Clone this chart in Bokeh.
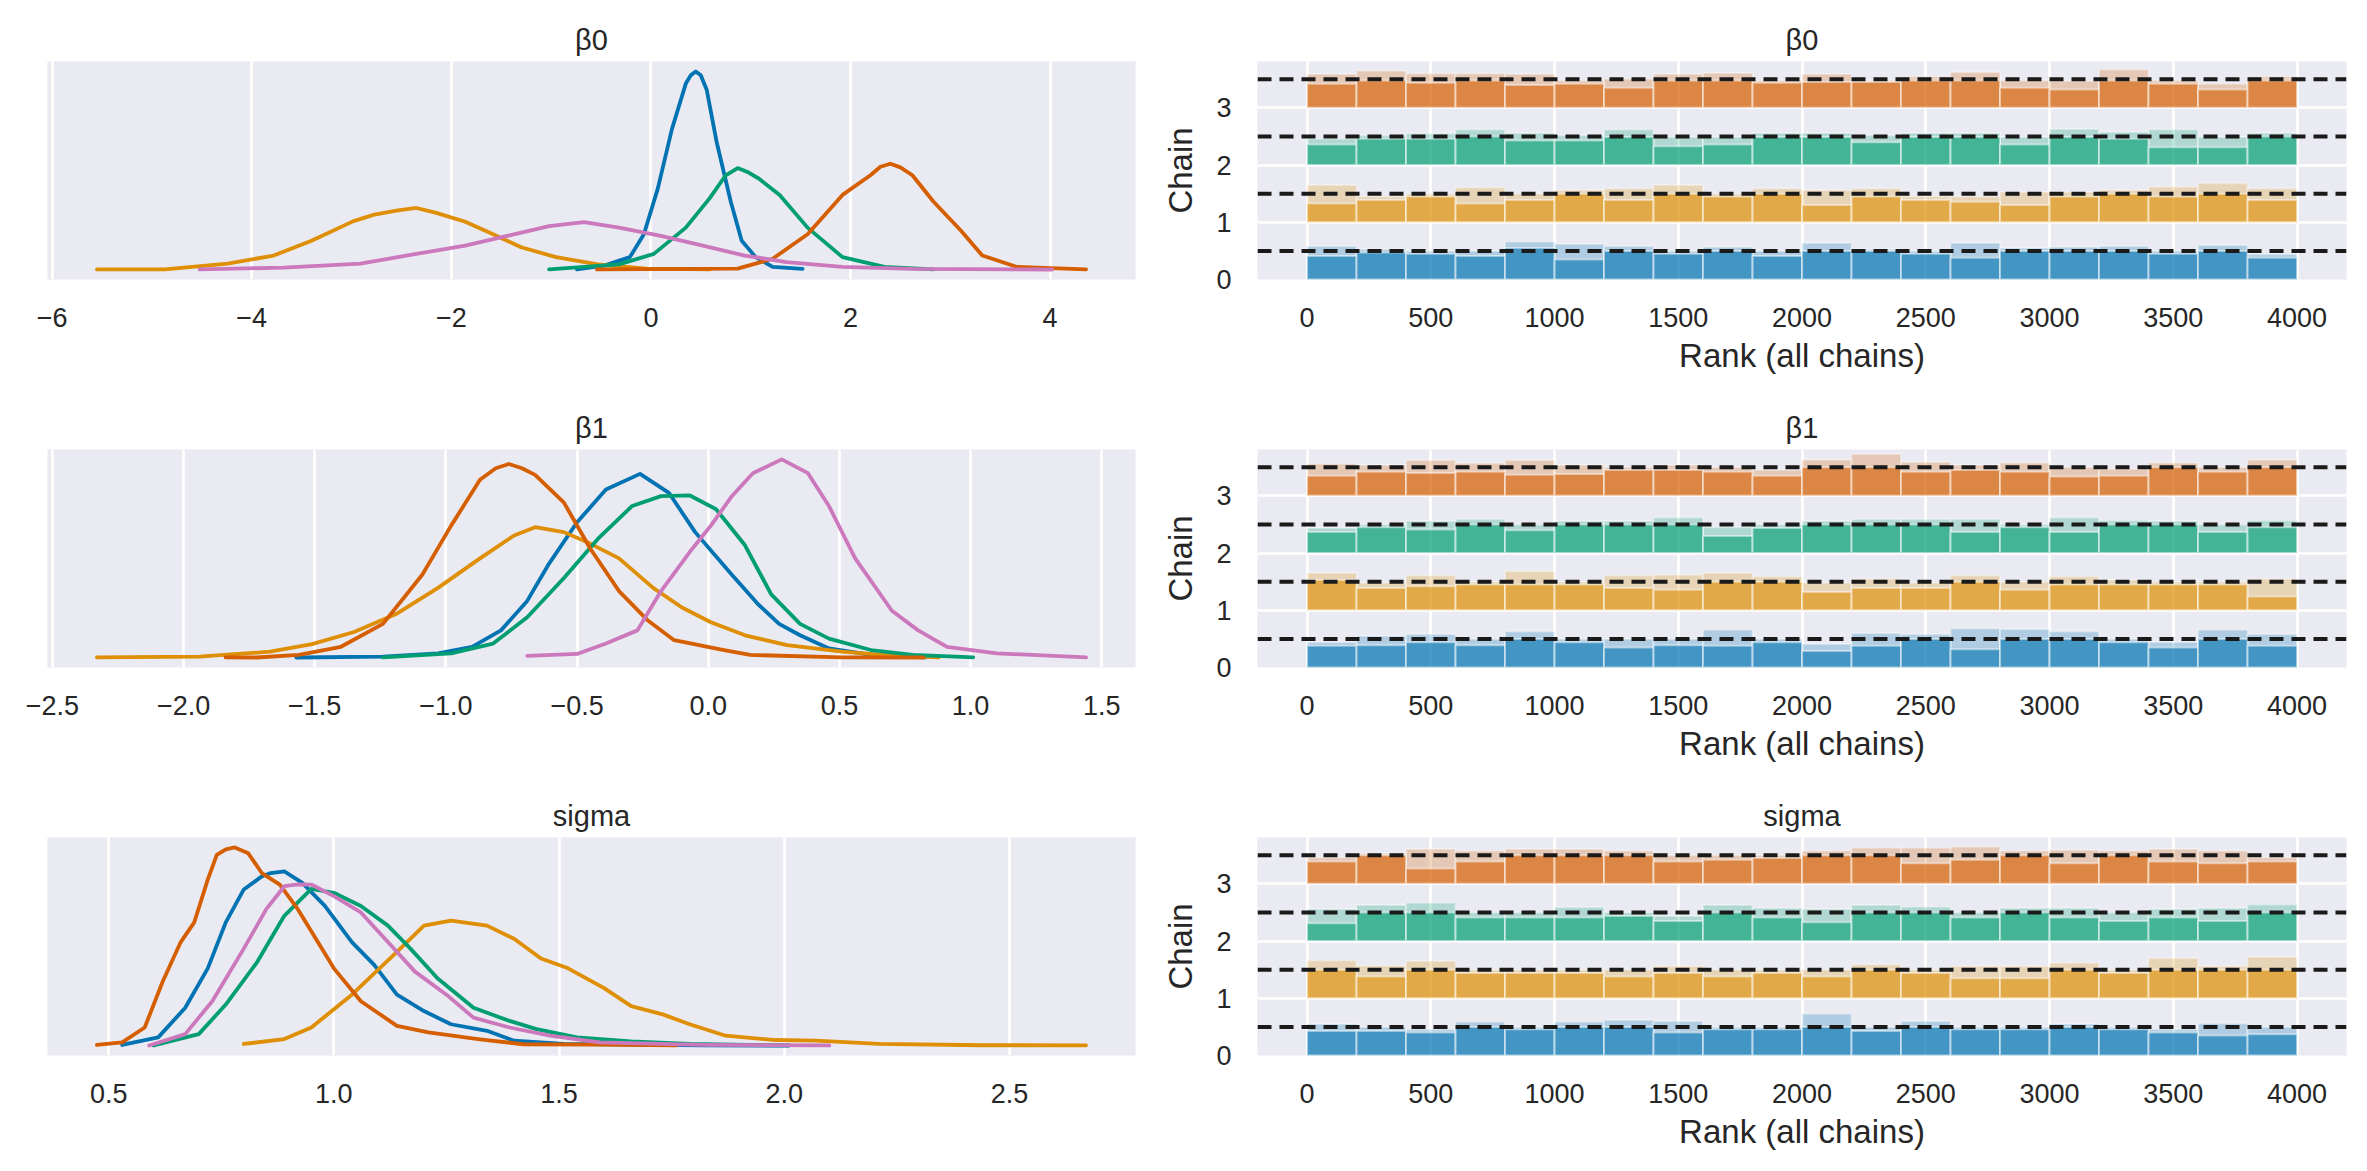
import numpy as np
from bokeh.plotting import figure
from bokeh.layouts import column, row
from bokeh.models import Range1d, FixedTicker, Span, CustomJSTickFormatter
from bokeh.embed import file_html
from bokeh.resources import INLINE

# ---------------- data ----------------
chain_colors = ["#0173b2", "#de8f05", "#029e73", "#d55e00", "#cc78bc"]
var_titles = ["β0", "β1", "sigma"]

# KDE curves, chains 0..4 (x grid, density)
beta0_x = [
    [-0.74, -0.46, -0.21, -0.07, 0.07, 0.21, 0.35, 0.40, 0.45, 0.50, 0.56, 0.66, 0.80, 0.91, 1.05, 1.22, 1.52],
    [-5.55, -4.87, -4.24, -3.78, -3.40, -2.98, -2.77, -2.55, -2.35, -2.15, -1.86, -1.58, -1.30, -0.95, -0.53, -0.04, 0.59],
    [-1.02, -0.32, 0.03, 0.35, 0.59, 0.75, 0.87, 0.98, 1.08, 1.29, 1.57, 1.92, 2.34, 2.83],
    [-0.54, 0.87, 1.22, 1.57, 1.92, 2.20, 2.30, 2.40, 2.50, 2.62, 2.83, 3.11, 3.32, 3.67, 4.36],
    [-4.52, -3.68, -2.91, -2.35, -1.86, -1.44, -1.02, -0.67, -0.32, 0.10, 0.52, 0.94, 1.36, 1.92, 2.62, 4.02],
]
beta0_y = [
    [0.002, 0.043, 0.127, 0.36, 0.827, 1.427, 1.893, 1.977, 2.017, 1.977, 1.827, 1.293, 0.693, 0.293, 0.127, 0.027, 0.007],
    [0.002, 0.003, 0.06, 0.143, 0.293, 0.493, 0.56, 0.60, 0.627, 0.577, 0.487, 0.36, 0.227, 0.127, 0.053, 0.01, 0.002],
    [0.002, 0.053, 0.16, 0.427, 0.727, 0.96, 1.033, 0.987, 0.927, 0.76, 0.427, 0.127, 0.027, 0.002],
    [0.002, 0.01, 0.11, 0.36, 0.76, 0.96, 1.047, 1.077, 1.04, 0.96, 0.693, 0.393, 0.143, 0.027, 0.002],
    [0.002, 0.02, 0.06, 0.16, 0.243, 0.343, 0.443, 0.483, 0.427, 0.343, 0.243, 0.143, 0.077, 0.027, 0.007, 0.001],
]
beta1_x = [
    [-1.57, -1.24, -1.03, -0.90, -0.79, -0.69, -0.61, -0.50, -0.39, -0.26, -0.15, -0.05, 0.09, 0.19, 0.27, 0.35, 0.46, 0.64, 0.83],
    [-2.33, -1.94, -1.67, -1.51, -1.35, -1.19, -1.03, -0.87, -0.74, -0.66, -0.55, -0.45, -0.34, -0.21, -0.10, 0.01, 0.14, 0.30, 0.51, 0.70, 0.88],
    [-1.24, -0.98, -0.82, -0.69, -0.55, -0.42, -0.29, -0.18, -0.07, 0.03, 0.14, 0.24, 0.35, 0.46, 0.62, 0.78, 1.01],
    [-1.84, -1.72, -1.56, -1.40, -1.24, -1.09, -0.98, -0.87, -0.81, -0.76, -0.71, -0.66, -0.55, -0.45, -0.34, -0.23, -0.13, 0.06, 0.16, 0.51, 0.82],
    [-0.69, -0.50, -0.39, -0.27, -0.18, -0.07, 0.01, 0.09, 0.17, 0.28, 0.38, 0.46, 0.56, 0.70, 0.80, 0.91, 1.10, 1.44],
]
beta1_y = [
    [0.001, 0.01, 0.043, 0.11, 0.277, 0.577, 0.943, 1.377, 1.71, 1.87, 1.677, 1.277, 0.843, 0.543, 0.343, 0.227, 0.093, 0.02, 0.003],
    [0.002, 0.01, 0.06, 0.137, 0.26, 0.443, 0.71, 1.01, 1.243, 1.327, 1.277, 1.16, 1.01, 0.71, 0.51, 0.36, 0.227, 0.127, 0.06, 0.02, 0.003],
    [0.003, 0.043, 0.143, 0.41, 0.81, 1.21, 1.543, 1.643, 1.65, 1.51, 1.143, 0.643, 0.343, 0.193, 0.077, 0.027, 0.003],
    [0.003, 0.001, 0.027, 0.11, 0.343, 0.843, 1.343, 1.81, 1.927, 1.97, 1.927, 1.86, 1.577, 1.11, 0.677, 0.377, 0.177, 0.077, 0.027, 0.003, 0.001],
    [0.017, 0.037, 0.143, 0.277, 0.677, 1.077, 1.343, 1.643, 1.877, 2.017, 1.877, 1.543, 1.01, 0.477, 0.277, 0.11, 0.043, 0.003],
]
sigma_x = [
    [0.53, 0.61, 0.67, 0.72, 0.76, 0.80, 0.84, 0.86, 0.89, 0.93, 0.98, 1.04, 1.09, 1.14, 1.20, 1.26, 1.34, 1.40, 1.51, 1.82, 2.01],
    [0.80, 0.89, 0.95, 1.04, 1.14, 1.20, 1.26, 1.34, 1.40, 1.46, 1.52, 1.60, 1.66, 1.73, 1.79, 1.87, 1.98, 2.07, 2.21, 2.44, 2.67],
    [0.60, 0.70, 0.76, 0.83, 0.89, 0.95, 1.00, 1.06, 1.12, 1.17, 1.23, 1.31, 1.39, 1.45, 1.54, 1.66, 1.79, 2.01],
    [0.474, 0.53, 0.58, 0.62, 0.66, 0.69, 0.72, 0.74, 0.76, 0.78, 0.81, 0.84, 0.88, 0.92, 0.96, 1.00, 1.06, 1.14, 1.21, 1.32, 1.42, 1.59, 1.76],
    [0.59, 0.67, 0.73, 0.80, 0.85, 0.89, 0.92, 0.95, 1.00, 1.06, 1.12, 1.18, 1.25, 1.31, 1.39, 1.48, 1.59, 1.82, 2.10],
]
sigma_y = [
    [0.013, 0.167, 0.767, 1.567, 2.5, 3.167, 3.433, 3.5, 3.533, 3.3, 2.833, 2.1, 1.633, 1.033, 0.7, 0.433, 0.3, 0.1, 0.033, 0.003, 0.002],
    [0.033, 0.133, 0.367, 1.033, 1.9, 2.433, 2.533, 2.433, 2.167, 1.767, 1.567, 1.167, 0.8, 0.633, 0.433, 0.2, 0.113, 0.1, 0.033, 0.007, 0.006],
    [0.003, 0.233, 0.833, 1.7, 2.633, 3.18, 3.1, 2.833, 2.433, 1.967, 1.367, 0.767, 0.5, 0.333, 0.167, 0.087, 0.033, 0.003],
    [0.013, 0.067, 0.367, 1.3, 2.1, 2.5, 3.367, 3.867, 3.98, 4.02, 3.9, 3.5, 3.267, 2.767, 2.167, 1.567, 0.9, 0.4, 0.267, 0.133, 0.027, 0.02, 0.003],
    [0.003, 0.233, 0.9, 1.967, 2.767, 3.233, 3.27, 3.267, 3.033, 2.7, 2.1, 1.5, 1.033, 0.567, 0.367, 0.2, 0.067, 0.013, 0.003],
]

# rank histograms: 20 bins over all 4000 draws, chains 0..3 (normalised heights)
n_ranks = 4000
n_bins = 20
rank_chains = [0, 1, 2, 3]
beta0_rank_top = [
    [0.58, 0.53, 0.50, 0.50, 0.66, 0.62, 0.58, 0.50, 0.57, 0.50, 0.64, 0.53, 0.50, 0.64, 0.55, 0.57, 0.58, 0.50, 0.60, 0.44],
    [0.65, 0.45, 0.50, 0.61, 0.50, 0.56, 0.59, 0.65, 0.50, 0.59, 0.56, 0.59, 0.45, 0.45, 0.53, 0.53, 0.56, 0.62, 0.68, 0.59],
    [0.46, 0.52, 0.55, 0.62, 0.56, 0.52, 0.62, 0.49, 0.49, 0.56, 0.56, 0.52, 0.56, 0.56, 0.49, 0.63, 0.58, 0.62, 0.49, 0.56],
    [0.59, 0.65, 0.60, 0.60, 0.59, 0.48, 0.51, 0.59, 0.61, 0.48, 0.59, 0.48, 0.55, 0.62, 0.48, 0.47, 0.67, 0.48, 0.42, 0.55],
]
beta0_rank_low = [
    [0.41, 0.47, 0.45, 0.41, 0.55, 0.35, 0.50, 0.45, 0.50, 0.41, 0.50, 0.50, 0.45, 0.38, 0.50, 0.50, 0.50, 0.45, 0.50, 0.38],
    [0.33, 0.39, 0.45, 0.33, 0.39, 0.50, 0.39, 0.50, 0.45, 0.50, 0.30, 0.45, 0.39, 0.36, 0.30, 0.45, 0.50, 0.45, 0.50, 0.39],
    [0.36, 0.46, 0.46, 0.50, 0.43, 0.43, 0.49, 0.33, 0.36, 0.49, 0.49, 0.40, 0.49, 0.49, 0.36, 0.49, 0.46, 0.31, 0.31, 0.50],
    [0.42, 0.48, 0.44, 0.48, 0.40, 0.42, 0.35, 0.48, 0.48, 0.44, 0.45, 0.45, 0.48, 0.48, 0.35, 0.32, 0.48, 0.42, 0.32, 0.48],
]
beta1_rank_top = [
    [0.44, 0.55, 0.58, 0.50, 0.63, 0.50, 0.50, 0.50, 0.66, 0.50, 0.41, 0.60, 0.58, 0.68, 0.67, 0.63, 0.50, 0.44, 0.66, 0.58],
    [0.65, 0.48, 0.61, 0.50, 0.68, 0.50, 0.61, 0.62, 0.65, 0.59, 0.48, 0.55, 0.48, 0.61, 0.50, 0.59, 0.53, 0.50, 0.50, 0.55],
    [0.44, 0.50, 0.56, 0.59, 0.50, 0.56, 0.56, 0.62, 0.45, 0.50, 0.56, 0.59, 0.59, 0.59, 0.50, 0.62, 0.57, 0.56, 0.50, 0.57],
    [0.56, 0.54, 0.62, 0.57, 0.62, 0.54, 0.50, 0.54, 0.50, 0.45, 0.63, 0.73, 0.59, 0.54, 0.58, 0.50, 0.47, 0.58, 0.50, 0.63],
]
beta1_rank_low = [
    [0.38, 0.39, 0.44, 0.39, 0.50, 0.44, 0.35, 0.39, 0.38, 0.44, 0.29, 0.38, 0.50, 0.32, 0.50, 0.50, 0.44, 0.35, 0.50, 0.38],
    [0.53, 0.39, 0.42, 0.45, 0.45, 0.45, 0.39, 0.36, 0.50, 0.50, 0.32, 0.39, 0.39, 0.50, 0.36, 0.45, 0.45, 0.45, 0.45, 0.24],
    [0.37, 0.45, 0.41, 0.50, 0.40, 0.50, 0.50, 0.50, 0.30, 0.44, 0.50, 0.50, 0.50, 0.37, 0.45, 0.37, 0.50, 0.50, 0.37, 0.45],
    [0.35, 0.42, 0.40, 0.42, 0.37, 0.38, 0.45, 0.45, 0.42, 0.35, 0.50, 0.50, 0.42, 0.45, 0.42, 0.34, 0.35, 0.50, 0.42, 0.50],
]
sigma_rank_top = [
    [0.55, 0.50, 0.46, 0.59, 0.50, 0.59, 0.62, 0.60, 0.50, 0.50, 0.73, 0.50, 0.60, 0.50, 0.50, 0.55, 0.50, 0.46, 0.56, 0.50],
    [0.66, 0.57, 0.65, 0.50, 0.50, 0.50, 0.50, 0.56, 0.50, 0.50, 0.50, 0.59, 0.50, 0.56, 0.56, 0.62, 0.50, 0.70, 0.56, 0.72],
    [0.56, 0.63, 0.67, 0.50, 0.50, 0.59, 0.50, 0.44, 0.63, 0.58, 0.56, 0.63, 0.60, 0.50, 0.58, 0.58, 0.50, 0.56, 0.58, 0.64],
    [0.46, 0.53, 0.61, 0.58, 0.61, 0.61, 0.58, 0.50, 0.50, 0.50, 0.58, 0.63, 0.63, 0.65, 0.58, 0.59, 0.58, 0.61, 0.58, 0.46],
]
sigma_rank_low = [
    [0.43, 0.43, 0.40, 0.50, 0.46, 0.50, 0.50, 0.40, 0.46, 0.46, 0.50, 0.43, 0.50, 0.46, 0.46, 0.50, 0.46, 0.40, 0.35, 0.37],
    [0.50, 0.38, 0.50, 0.44, 0.44, 0.44, 0.38, 0.44, 0.38, 0.44, 0.38, 0.50, 0.44, 0.35, 0.35, 0.50, 0.44, 0.50, 0.50, 0.50],
    [0.31, 0.50, 0.50, 0.41, 0.41, 0.41, 0.44, 0.35, 0.50, 0.41, 0.33, 0.50, 0.50, 0.41, 0.50, 0.41, 0.35, 0.41, 0.35, 0.50],
    [0.39, 0.50, 0.27, 0.39, 0.50, 0.50, 0.50, 0.39, 0.42, 0.45, 0.50, 0.50, 0.36, 0.42, 0.50, 0.36, 0.50, 0.39, 0.36, 0.39],
]
rank_reference_level = 0.5  # uniform expectation (dashed lines)

beta0_ticks = [-6, -4, -2, 0, 2, 4]
beta0_labels = ["−6", "−4", "−2", "0", "2", "4"]
beta1_ticks = [-2.5, -2.0, -1.5, -1.0, -0.5, 0.0, 0.5, 1.0, 1.5]
beta1_labels = ["−2.5", "−2.0", "−1.5", "−1.0", "−0.5", "0.0", "0.5", "1.0", "1.5"]
sigma_ticks = [0.5, 1.0, 1.5, 2.0, 2.5]
sigma_labels = ["0.5", "1.0", "1.5", "2.0", "2.5"]
rank_ticks = [0, 500, 1000, 1500, 2000, 2500, 3000, 3500, 4000]
rank_labels = ["0", "500", "1000", "1500", "2000", "2500", "3000", "3500", "4000"]
chain_ticks = [0, 1, 2, 3]
chain_labels = ["0", "1", "2", "3"]

# ---------------- style ----------------
FONT = "Liberation Sans"
TXT = "#262626"
BG = "#eaeaf2"

def label_formatter(ticks, labels):
    return CustomJSTickFormatter(args=dict(vals=ticks, labs=labels), code="""
        let best = 0, d = Infinity;
        for (let i = 0; i < vals.length; i++) {
            const e = Math.abs(vals[i] - tick);
            if (e < d) { d = e; best = i; }
        }
        return labs[best];
    """)

def base_style(p, title):
    p.title.text = title
    p.title.text_font = FONT
    p.title.text_font_size = "29px"
    p.title.text_font_style = "normal"
    p.title.text_color = TXT
    p.title.align = "center"
    p.title.standoff = 12
    p.background_fill_color = BG
    p.border_fill_color = "white"
    p.outline_line_color = None
    for ax in p.axis:
        ax.axis_line_color = None
        ax.major_tick_line_color = None
        ax.minor_tick_line_color = None
        ax.major_tick_out = 0
        ax.major_tick_in = 0
        ax.major_label_text_font = FONT
        ax.major_label_text_font_size = "27px"
        ax.major_label_text_color = TXT
        ax.axis_label_text_font = FONT
        ax.axis_label_text_font_size = "33px"
        ax.axis_label_text_font_style = "normal"
        ax.axis_label_text_color = TXT
    p.grid.grid_line_color = "white"
    p.grid.grid_line_width = 2.7
    p.xaxis.major_label_standoff = 28

FRAME_H = 218

def kde_panel(title, xs, ys, ticks, labels, top, bottom):
    xmin = min(min(x) for x in xs); xmax = max(max(x) for x in xs)
    ymax = max(max(y) for y in ys)
    pad = 0.05 * (xmax - xmin)
    p = figure(frame_width=1088, frame_height=FRAME_H,
               min_border_left=47, min_border_right=15,
               min_border_top=top, min_border_bottom=bottom,
               x_range=Range1d(xmin - pad, xmax + pad),
               y_range=Range1d(-0.05 * ymax, 1.05 * ymax),
               output_backend="svg", toolbar_location=None)
    base_style(p, title)
    p.yaxis.visible = False
    p.ygrid.visible = False
    p.xaxis.ticker = FixedTicker(ticks=ticks)
    p.xaxis.formatter = label_formatter(ticks, labels)
    for c, (x, y) in enumerate(zip(xs, ys)):
        p.line(x, y, line_color=chain_colors[c], line_width=3.8, line_join="round", line_cap="round")
    return p

def rank_panel(title, tops, lows, top, bottom):
    edges = np.linspace(0, n_ranks, n_bins + 1)
    p = figure(frame_width=1089, frame_height=FRAME_H,
               min_border_left=107, min_border_right=12,
               min_border_top=top, min_border_bottom=bottom,
               x_range=Range1d(-0.05 * n_ranks, 1.05 * n_ranks),
               y_range=Range1d(0, 3.81),
               output_backend="svg", toolbar_location=None)
    base_style(p, title)
    p.xaxis.ticker = FixedTicker(ticks=rank_ticks)
    p.xaxis.formatter = label_formatter(rank_ticks, rank_labels)
    p.yaxis.ticker = FixedTicker(ticks=chain_ticks)
    p.yaxis.formatter = label_formatter(chain_ticks, chain_labels)
    p.xaxis.axis_label = "Rank (all chains)"
    p.yaxis.axis_label = "Chain"
    p.yaxis.major_label_standoff = 26
    p.yaxis.axis_label_standoff = 14
    p.xaxis.axis_label_standoff = 7
    for c in rank_chains:
        col = chain_colors[c]
        base = [c] * n_bins
        p.quad(left=edges[:-1], right=edges[1:], bottom=base,
               top=[c + h for h in tops[c]], fill_color=col, fill_alpha=0.25,
               line_color="white", line_alpha=0.35, line_width=2)
        p.quad(left=edges[:-1], right=edges[1:], bottom=base,
               top=[c + h for h in lows[c]], fill_color=col, fill_alpha=0.62,
               line_color="white", line_alpha=0.45, line_width=2)
    for c in rank_chains:
        p.add_layout(Span(location=c + rank_reference_level, dimension="width",
                          line_color="#1a1a1a", line_width=4, line_dash="14 8"))
    return p

l1 = kde_panel(var_titles[0], beta0_x, beta0_y, beta0_ticks, beta0_labels, 61, 117)
r1 = rank_panel(var_titles[0], beta0_rank_top, beta0_rank_low, 61, 117)
l2 = kde_panel(var_titles[1], beta1_x, beta1_y, beta1_ticks, beta1_labels, 53, 117)
r2 = rank_panel(var_titles[1], beta1_rank_top, beta1_rank_low, 53, 117)
l3 = kde_panel(var_titles[2], sigma_x, sigma_y, sigma_ticks, sigma_labels, 53, 106)
r3 = rank_panel(var_titles[2], sigma_rank_top, sigma_rank_low, 53, 106)

layout = column(row(l1, r1), row(l2, r2), row(l3, r3))
open("out.html", "w").write(file_html(layout, INLINE))
